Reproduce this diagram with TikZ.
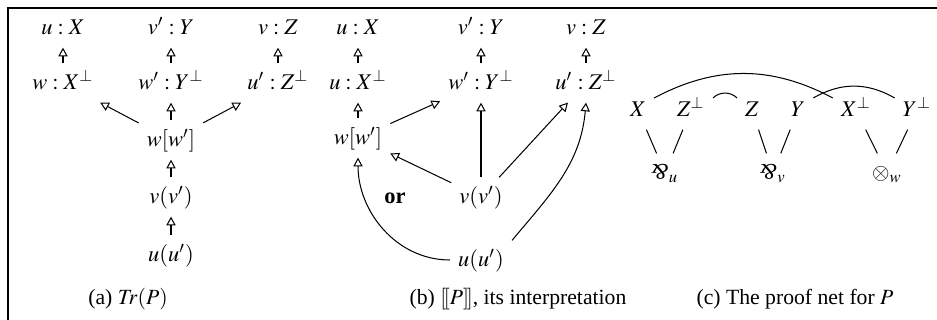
\documentclass[tikz,border=0pt]{standalone}
\usepackage{mathptmx}
\usepackage[no-math]{fontspec}
\setmainfont{Liberation Serif}
\usepackage{graphicx}
\usetikzlibrary{arrows.meta}
\newcommand{\parrsym}{\mathord{\rotatebox[origin=c]{180}{\textit{\&}}}}
\newcommand{\sem}[1]{[\![#1]\!]}
\begin{document}
\begin{tikzpicture}[x=0.392pt, y=-0.392pt, every node/.style={font=\fontsize{8.8pt}{10pt}\selectfont, inner sep=3pt, text height=7pt, text depth=2pt}, caption/.style={font=\fontsize{8.5pt}{10pt}\selectfont}, arrow/.style={-{Triangle[open, length=3.4pt, width=3.6pt]}, line width=0.4pt}, link/.style={line width=0.4pt}]
\useasboundingbox (0,0) rectangle (937,320);
\draw[line width=0.5pt] (8,320) -- (8,8) -- (937,8);
% (a) the trace
\node (aX) at (63,28) {$u : X$};
\node (aY) at (171,28) {$v' : Y$};
\node (aZ) at (278,28) {$v : Z$};
\node (aXp) at (63,83) {$w : X^\perp$};
\node (aYp) at (171,83) {$w' : Y^\perp$};
\node (aZp) at (278,83) {$u' : Z^\perp$};
\node (aw) at (171,140) {$w[w']$};
\node (av) at (171,197) {$v(v')$};
\node (au) at (171,255) {$u(u')$};
\node[caption] (capa) at (128,298) {(a) $\mathit{Tr}(P)$};
\draw[arrow] (aXp)--(aX); \draw[arrow] (aYp)--(aY); \draw[arrow] (aZp)--(aZ);
\draw[arrow] (aw)--(aXp); \draw[arrow] (aw)--(aYp); \draw[arrow] (aw)--(aZp);
\draw[arrow] (av)--(aw); \draw[arrow] (au)--(av);
% (b) the interpretation
\node (bX) at (358,28) {$u : X$};
\node (bY) at (481,28) {$v' : Y$};
\node (bZ) at (586,28) {$v : Z$};
\node (bXp) at (358,83) {$u : X^\perp$};
\node (bYp) at (481,83) {$w' : Y^\perp$};
\node (bZp) at (586,83) {$u' : Z^\perp$};
\node (bw) at (358,138) {$w[w']$};
\node (bv) at (481,197) {$v(v')$};
\node (bor) at (395,197) {\textbf{or}};
\node (bu) at (481,260) {$u(u')$};
\node[caption] (capb) at (518,298) {(b) $\sem{P}$, its interpretation};
\draw[arrow] (bXp)--(bX); \draw[arrow] (bYp)--(bY); \draw[arrow] (bZp)--(bZ);
\draw[arrow] (bw)--(bXp); \draw[arrow] (bw)--(bYp);
\draw[arrow] (bv)--(bYp); \draw[arrow] (bv)--(bw); \draw[arrow] (bv)--(bZp);
\draw[arrow] (bu.west) to[out=180, in=-90] (bw.south);
\draw[arrow] (bu.north east) to[out=50, in=-95] (bZp.south);
% (c) the proof net
\node (cX) at (638,110) {$X$};
\node (cZp) at (691,110) {$Z^\perp$};
\node (cZ) at (752,110) {$Z$};
\node (cY) at (798,110) {$Y$};
\node (cXp) at (856,110) {$X^\perp$};
\node (cYp) at (917,110) {$Y^\perp$};
\node (cpu) at (665,173) {$\parrsym_u$};
\node (cpv) at (773,173) {$\parrsym_v$};
\node (ctw) at (887,173) {$\otimes_w$};
\node[caption] (capc) at (795,298) {(c) The proof net for $P$};
\draw[link] (cX)--(cpu); \draw[link] (cZp)--(cpu);
\draw[link] (cZ)--(cpv); \draw[link] (cY)--(cpv);
\draw[link] (cXp)--(ctw); \draw[link] (cYp)--(ctw);
\draw[link] ([yshift=-3pt]cX.north east) to[bend left=28] ([yshift=-3pt]cXp.north west);
\draw[link] ([yshift=-3pt]cZp.north east) to[bend left=45] ([yshift=-3pt]cZ.north west);
\draw[link] ([yshift=-3pt]cY.north east) to[bend left=30] ([yshift=-3pt]cYp.north west);
\end{tikzpicture}
\end{document}
